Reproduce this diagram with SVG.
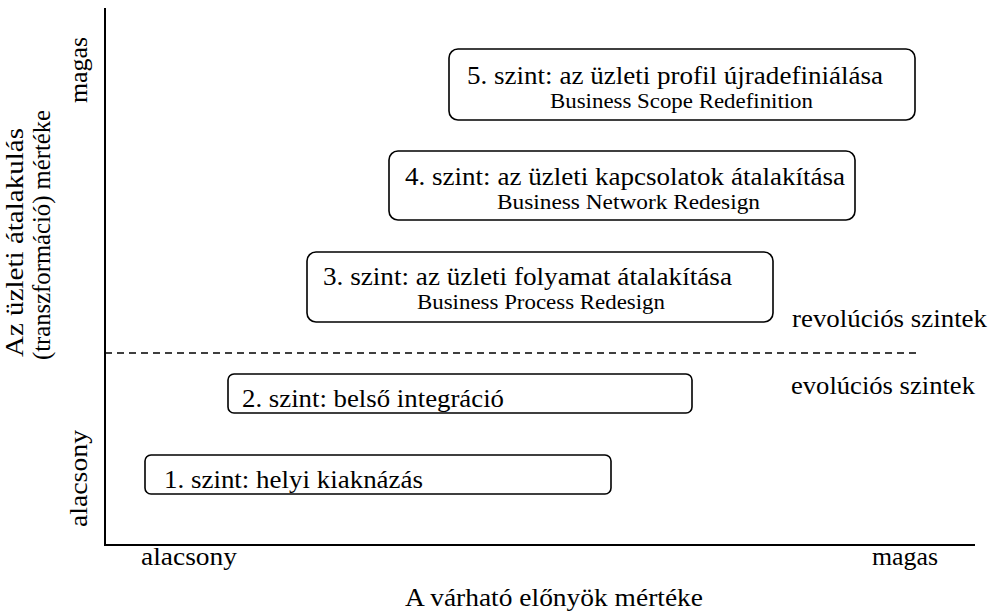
<svg xmlns="http://www.w3.org/2000/svg" width="996" height="615" viewBox="0 0 996 615">
  <style>
    .t { font-family: "Liberation Serif", "Times New Roman", "DejaVu Serif", serif; fill: #000; }
    .lvl { font-size: 25px; }
    .en { font-size: 20px; }
    .lab { font-size: 25px; }
    .box { fill: #fff; stroke: #000; stroke-width: 1.6; }
    .axis { stroke: #000; stroke-width: 2; fill: none; }
  </style>
  <rect width="996" height="615" fill="#fff"/>

  <g id="axes">
    <path class="axis" d="M105 8 V545 H975"/>
    <line x1="105" y1="353" x2="917" y2="353" stroke="#000" stroke-width="1.5" stroke-dasharray="7,5"/>
  </g>

  <g id="y-axis-labels" class="t" font-family="Liberation Serif, serif">
    <text class="t lab" transform="translate(23 357) rotate(-90)" textLength="229" lengthAdjust="spacingAndGlyphs">Az üzleti átalakulás</text>
    <text class="t lab" transform="translate(50 360) rotate(-90)" textLength="250" lengthAdjust="spacingAndGlyphs">(transzformáció) mértéke</text>
    <text class="t lab" transform="translate(87 103) rotate(-90)" textLength="66" lengthAdjust="spacingAndGlyphs">magas</text>
    <text class="t lab" transform="translate(87 527) rotate(-90)" textLength="97" lengthAdjust="spacingAndGlyphs">alacsony</text>
  </g>

  <g id="x-axis-labels" class="t" font-family="Liberation Serif, serif">
    <text class="t lab" x="141" y="565" textLength="96" lengthAdjust="spacingAndGlyphs">alacsony</text>
    <text class="t lab" x="872" y="565" textLength="66" lengthAdjust="spacingAndGlyphs">magas</text>
    <text class="t lab" x="405" y="606" textLength="298" lengthAdjust="spacingAndGlyphs">A várható előnyök mértéke</text>
  </g>

  <g id="zone-labels" class="t" font-family="Liberation Serif, serif">
    <text class="t lab" x="792" y="327" textLength="195" lengthAdjust="spacingAndGlyphs">revolúciós szintek</text>
    <text class="t lab" x="791" y="394" textLength="184" lengthAdjust="spacingAndGlyphs">evolúciós szintek</text>
  </g>

  <g id="level5" class="t" font-family="Liberation Serif, serif">
    <rect class="box" x="449" y="49" width="466" height="71" rx="9"/>
    <text class="t lvl" x="467" y="84" textLength="416" lengthAdjust="spacingAndGlyphs">5. szint: az üzleti profil újradefiniálása</text>
    <text class="t en" x="550" y="108" textLength="263" lengthAdjust="spacingAndGlyphs">Business Scope Redefinition</text>
  </g>
  <g id="level4" class="t" font-family="Liberation Serif, serif">
    <rect class="box" x="389" y="151" width="466" height="69" rx="9"/>
    <text class="t lvl" x="405" y="185" textLength="440" lengthAdjust="spacingAndGlyphs">4. szint: az üzleti kapcsolatok átalakítása</text>
    <text class="t en" x="497" y="209" textLength="263" lengthAdjust="spacingAndGlyphs">Business Network Redesign</text>
  </g>
  <g id="level3" class="t" font-family="Liberation Serif, serif">
    <rect class="box" x="307" y="252" width="466" height="70" rx="9"/>
    <text class="t lvl" x="323" y="285" textLength="409" lengthAdjust="spacingAndGlyphs">3. szint: az üzleti folyamat átalakítása</text>
    <text class="t en" x="417" y="309" textLength="248" lengthAdjust="spacingAndGlyphs">Business Process Redesign</text>
  </g>
  <g id="level2" class="t" font-family="Liberation Serif, serif">
    <rect class="box" x="228" y="374" width="464" height="39" rx="6"/>
    <text class="t lvl" x="242" y="407" textLength="262" lengthAdjust="spacingAndGlyphs">2. szint: belső integráció</text>
  </g>
  <g id="level1" class="t" font-family="Liberation Serif, serif">
    <rect class="box" x="145" y="455" width="466" height="39" rx="6"/>
    <text class="t lvl" x="164" y="488" textLength="259" lengthAdjust="spacingAndGlyphs">1. szint: helyi kiaknázás</text>
  </g>
</svg>
